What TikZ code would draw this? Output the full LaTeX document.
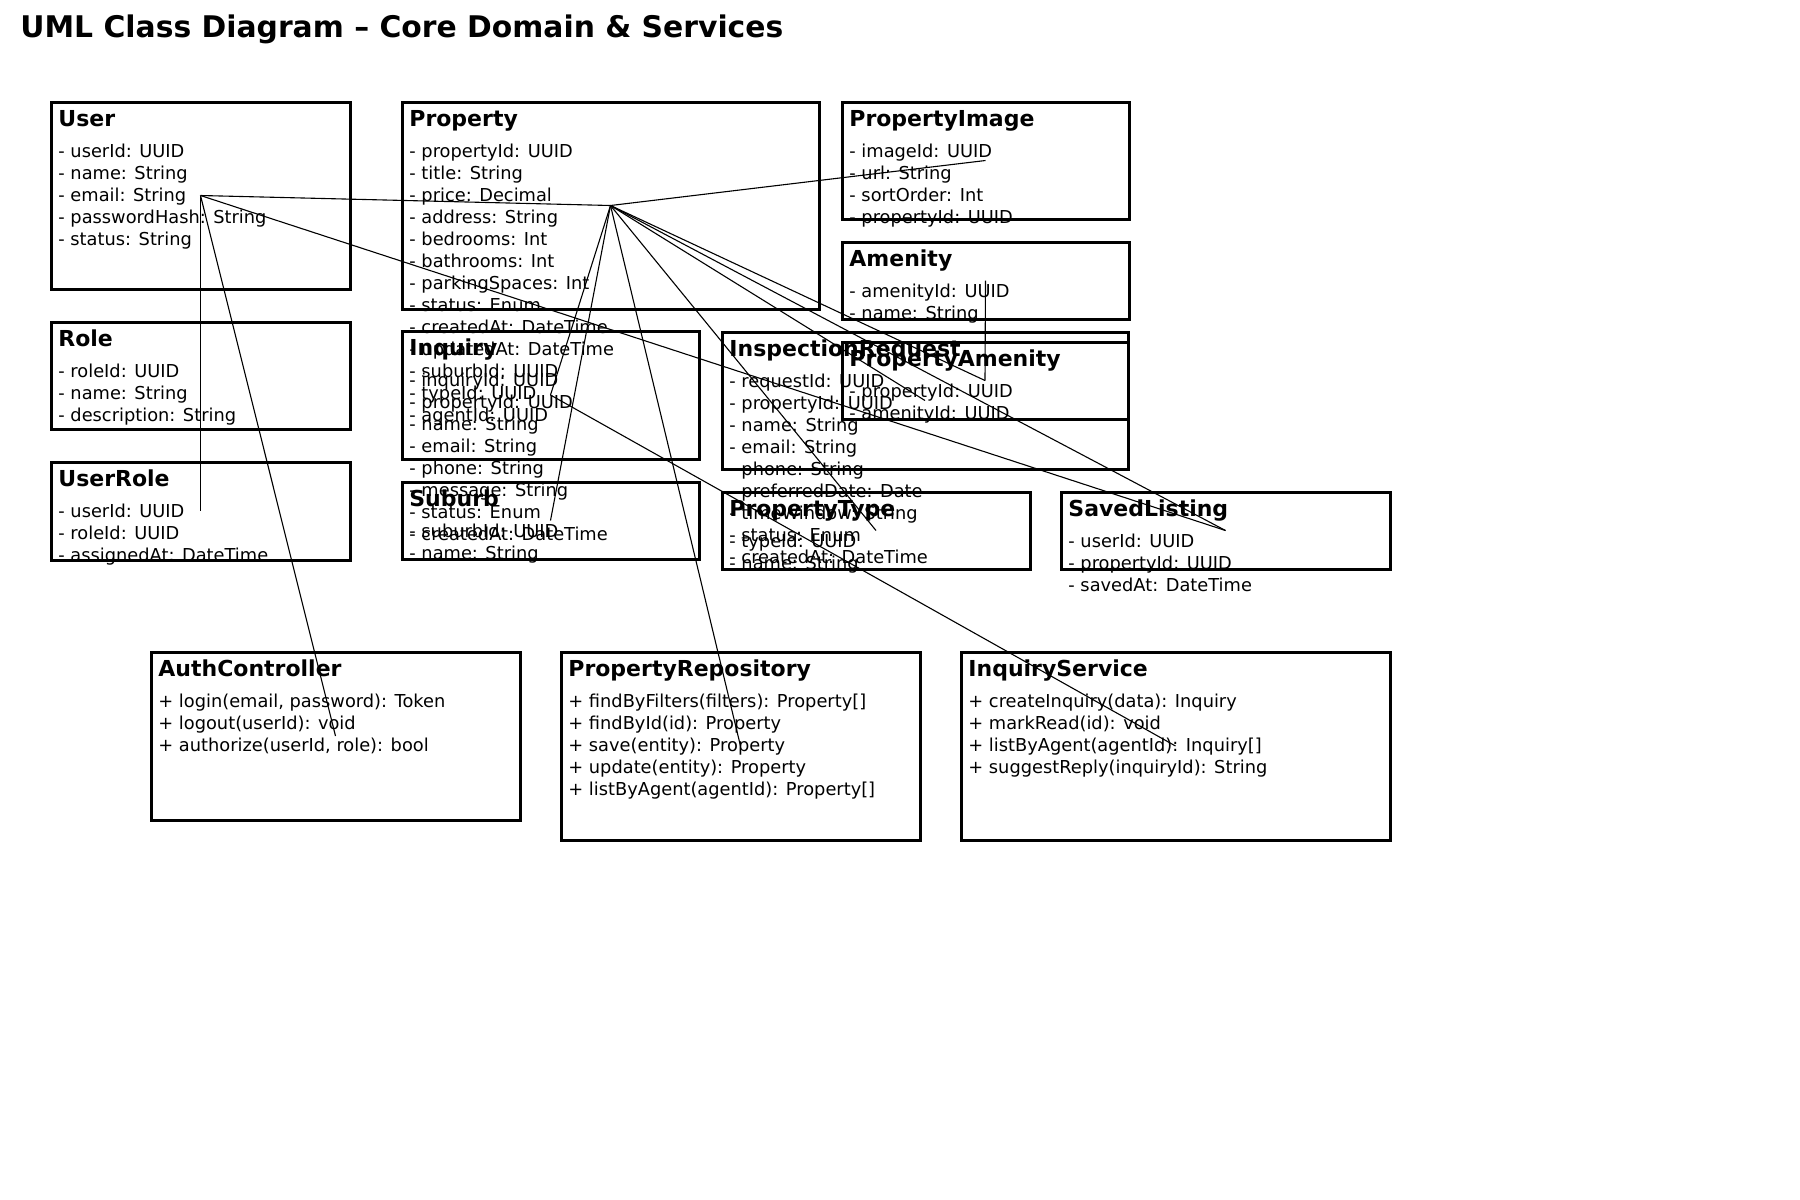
\documentclass[tikz,border=0pt]{standalone}
\usepackage{fontspec}
\setmainfont{DejaVu Sans}
\usetikzlibrary{positioning}

\tikzset{
  classbox/.style={draw, line width=1.5pt, inner sep=0pt},
  classname/.style={anchor=base west, inner sep=0pt, font=\fontsize{11pt}{13pt}\selectfont\bfseries},
  member/.style={anchor=base west, inner sep=0pt, font=\fontsize{8.9pt}{11pt}\selectfont},
  assoc/.style={line width=0.55pt},
}

% one line of attributes or operations per node, 22px apart
\newcommand{\members}[4]{%
  \foreach \m [count=\k from 0] in {#4}
    \node[member] (#1-\k) at (#2,#3+22*\k) {\m};
}

\begin{document}
\begin{tikzpicture}[x=0.5pt, y=-0.5pt]
		\useasboundingbox (0,0) rectangle (1800,1200);
		\node[anchor=base west, inner sep=0pt, font=\fontsize{14.9pt}{17pt}\selectfont\bfseries] (heading) at (20,37) {UML Class Diagram – Core Domain \& Services};

		% entities
		\node[classbox, minimum width=149.5pt, minimum height=93.5pt] (user) at (200.5,195.5) {};
		\node[classname] (user-n) at (58,126) {User};
		\members{user}{58}{157}{- userId: UUID, - name: String, - email: String, - passwordHash: String, - status: String}

		\node[classbox, minimum width=149.5pt, minimum height=53.5pt] (role) at (200.5,375.5) {};
		\node[classname] (role-n) at (58,346) {Role};
		\members{role}{58}{377}{- roleId: UUID, - name: String, - description: String}

		\node[classbox, minimum width=149.5pt, minimum height=49pt] (userrole) at (200.5,511) {};
		\node[classname] (userrole-n) at (58,486) {UserRole};
		\members{userrole}{58}{517}{- userId: UUID, - roleId: UUID, - assignedAt: DateTime}

		\node[classbox, minimum width=208.5pt, minimum height=103.5pt] (property) at (610.5,205.5) {};
		\node[classname] (property-n) at (409,126) {Property};
		\members{property}{409}{157}{- propertyId: UUID, - title: String, - price: Decimal, - address: String, - bedrooms: Int, - bathrooms: Int, - parkingSpaces: Int, - status: Enum, - createdAt: DateTime, - updatedAt: DateTime, - suburbId: UUID, - typeId: UUID, - agentId: UUID}

		\node[classbox, minimum width=143.5pt, minimum height=58.5pt] (propimage) at (985.5,160.5) {};
		\node[classname] (propimage-n) at (849,126) {PropertyImage};
		\members{propimage}{849}{157}{- imageId: UUID, - url: String, - sortOrder: Int, - propertyId: UUID}

		\node[classbox, minimum width=143.5pt, minimum height=38.5pt] (amenity) at (985.5,280.5) {};
		\node[classname] (amenity-n) at (849,266) {Amenity};
		\members{amenity}{849}{297}{- amenityId: UUID, - name: String}

		\node[classbox, minimum width=148.5pt, minimum height=64pt] (inquiry) at (550.5,395) {};
		\node[classname] (inquiry-n) at (409,355) {Inquiry};
		\members{inquiry}{409}{386}{- inquiryId: UUID, - propertyId: UUID, - name: String, - email: String, - phone: String, - message: String, - status: Enum, - createdAt: DateTime}

		\node[classbox, minimum width=203pt, minimum height=68.5pt] (inspection) at (925,400.5) {};
		\node[classname] (inspection-n) at (729,356) {InspectionRequest};
		\members{inspection}{729}{387}{- requestId: UUID, - propertyId: UUID, - name: String, - email: String, \phantom{- }phone: String, \phantom{- }preferredDate: Date, - timeWindow: String, - status: Enum, - createdAt: DateTime}

		\node[classbox, minimum width=143pt, minimum height=38.5pt] (propamenity) at (985,380.5) {};
		\node[classname] (propamenity-n) at (849,366) {PropertyAmenity};
		\members{propamenity}{849}{397}{- propertyId: UUID, - amenityId: UUID}

		\node[classbox, minimum width=148.5pt, minimum height=38.5pt] (suburb) at (550.5,520.5) {};
		\node[classname] (suburb-n) at (409,506) {Suburb};
		\members{suburb}{409}{537}{- suburbId: UUID, - name: String}

		\node[classbox, minimum width=154pt, minimum height=38.5pt] (proptype) at (876,530.5) {};
		\node[classname] (proptype-n) at (729,516) {PropertyType};
		\members{proptype}{729}{547}{- typeId: UUID, - name: String}

		\node[classbox, minimum width=164.5pt, minimum height=38.5pt] (saved) at (1225.5,530.5) {};
		\node[classname] (saved-n) at (1068,516) {SavedListing};
		\members{saved}{1068}{547}{- userId: UUID, - propertyId: UUID, - savedAt: DateTime}

		% services
		\node[classbox, minimum width=184.5pt, minimum height=84pt] (auth) at (335.5,736) {};
		\node[classname] (auth-n) at (158,676) {AuthController};
		\members{auth}{158}{707}{{+ login(email, password): Token}, {+ logout(userId): void}, {+ authorize(userId, role): bool}}

		\node[classbox, minimum width=179.5pt, minimum height=94pt] (repo) at (740.5,746) {};
		\node[classname] (repo-n) at (568,676) {PropertyRepository};
		\members{repo}{568}{707}{{+ findByFilters(filters): Property[]}, {+ findById(id): Property}, {+ save(entity): Property}, {+ update(entity): Property}, {+ listByAgent(agentId): Property[]}}

		\node[classbox, minimum width=214.5pt, minimum height=94pt] (inqservice) at (1175.5,746) {};
		\node[classname] (inqservice-n) at (968,676) {InquiryService};
		\members{inqservice}{968}{707}{{+ createInquiry(data): Inquiry}, {+ markRead(id): void}, {+ listByAgent(agentId): Inquiry[]}, {+ suggestReply(inquiryId): String}}

		% associations
		\draw[assoc] (user.center) -- (property.center);
		\draw[assoc] (user.center) -- (userrole.center);
		\draw[assoc] (user.center) -- (auth.center);
		\draw[assoc] (user.center) -- (saved.center);
		\draw[assoc] (property.center) -- (propimage.center);
		\draw[assoc] (property.center) -- (propamenity.center);
		\draw[assoc] (amenity.center) -- (propamenity.center);
		\draw[assoc] (property.center) -- (inquiry.center);
		\draw[assoc] (property.center) -- (suburb.center);
		\draw[assoc] (property.center) -- (proptype.center);
		\draw[assoc] (property.center) -- (inspection.center);
		\draw[assoc] (property.center) -- (saved.center);
		\draw[assoc] (property.center) -- (repo.center);
		\draw[assoc] (inquiry.center) -- (inqservice.center);
\end{tikzpicture}
\end{document}
